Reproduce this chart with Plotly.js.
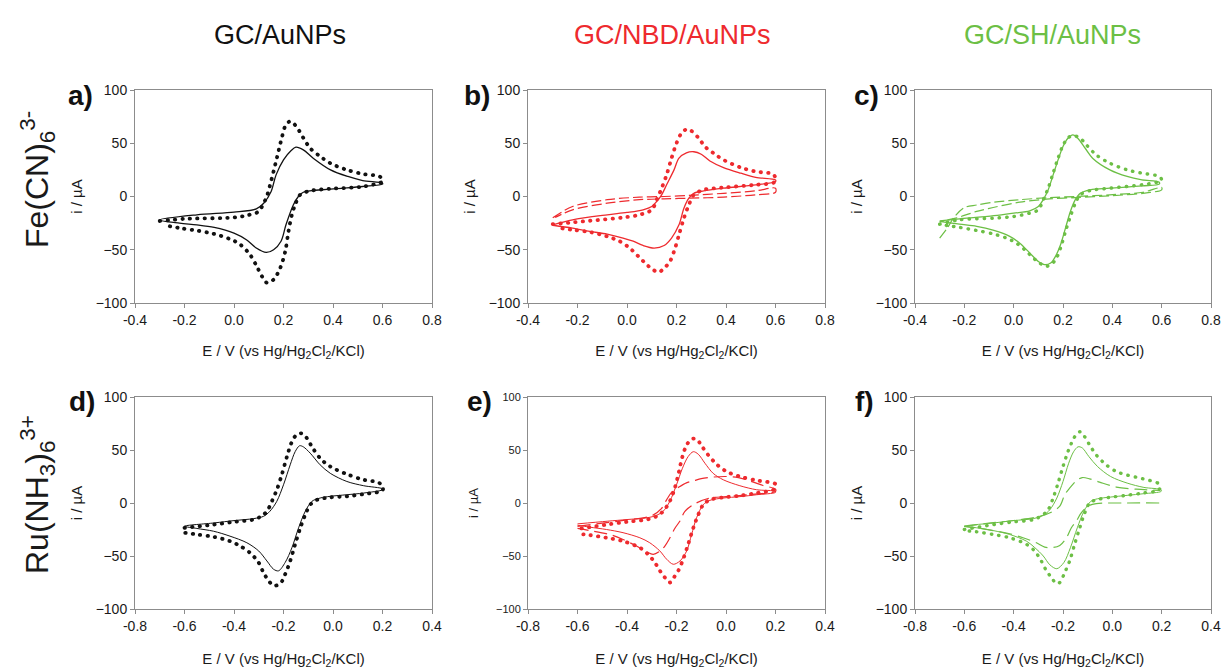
<!DOCTYPE html>
<html>
<head>
<meta charset="utf-8">
<script src="https://cdn.plot.ly/plotly-3.0.1.min.js"></script>
<style>html,body{margin:0;padding:0;background:#fff;}#chart{width:1221px;height:669px;}</style>
</head>
<body>
<div id="chart"></div>
<script>
// ---------- column / row labels ----------
const columnTitles = ['GC/AuNPs', 'GC/NBD/AuNPs', 'GC/SH/AuNPs'];
const rowTitles = ['Fe(CN)<sub>6</sub><sup>3-</sup>', 'Ru(NH<sub>3</sub>)<sub>6</sub><sup>3+</sup>'];
const panelLetters = ['a)', 'b)', 'c)', 'd)', 'e)', 'f)'];
const xTicksFe = [-0.4, -0.2, 0.0, 0.2, 0.4, 0.6, 0.8];
const xTicksRu = [-0.8, -0.6, -0.4, -0.2, 0.0, 0.2, 0.4];
const yTicks = [-100, -50, 0, 50, 100];

// ---------- panel a : Fe(CN)6 3-, GC/AuNPs ----------
const a_solid_E = [-0.30,-0.15,0.00,0.09,0.12,0.15,0.17,0.20,0.23,0.25,0.28,0.32,0.39,0.46,0.52,0.60,
  0.60,0.52,0.39,0.28,0.26,0.24,0.21,0.19,0.16,0.13,0.09,0.05,0.00,-0.08,-0.15,-0.22,-0.30];
const a_solid_I = [-22,-17.2,-14.7,-11.6,-6.3,4.7,20.3,34.4,43,46.3,43.8,36,25,18.8,15,12.5,
  11.6,9.4,6.9,4,0,-7.8,-26.6,-42,-50,-52.5,-48.4,-40.6,-34.4,-29,-26.6,-25,-22];
const a_dot_E = [-0.30,-0.20,0.00,0.05,0.10,0.12,0.13,0.146,0.173,0.193,0.207,0.224,0.24,0.261,0.281,0.308,0.349,0.389,0.456,0.524,0.589,0.60,
  0.60,0.524,0.389,0.308,0.267,0.247,0.234,0.220,0.207,0.187,0.16,0.133,0.113,0.092,0.065,0.025,-0.016,-0.083,-0.15,-0.218,-0.289];
const a_dot_I = [-23,-21,-19.7,-17.8,-14,-6,-1.6,11,36,55,66,70.3,68.8,62.5,54.7,45.3,37.5,31.3,25,21,18.8,15,
  14,9.4,7.2,5.3,1.6,-7.8,-17,-33,-51.6,-67,-78,-81,-75,-65.6,-54.7,-45,-40,-35,-32,-29.7,-26.6];

// ---------- panel b : Fe(CN)6 3-, GC/NBD/AuNPs ----------
const b_solid_E = [-0.30,-0.22,-0.08,0.00,0.065,0.10,0.12,0.14,0.16,0.19,0.21,0.24,0.27,0.30,0.335,0.39,0.46,0.52,0.60,
  0.60,0.52,0.39,0.31,0.27,0.25,0.23,0.21,0.18,0.15,0.11,0.065,0.025,-0.016,-0.08,-0.15,-0.22,-0.30];
const b_solid_I = [-26.6,-21.9,-17.2,-15,-12.5,-9.4,-4.7,1.6,11,25,36,41,42,39.7,33.4,27.2,21.9,18,15.6,
  14,11,7.8,5.3,3,-1.6,-11,-26.6,-39,-46,-48.4,-46,-42,-39,-35.3,-32.8,-29.7,-27];
const b_dot_E = [-0.30,-0.15,-0.016,0.05,0.10,0.12,0.14,0.16,0.18,0.20,0.22,0.24,0.26,0.29,0.315,0.35,0.39,0.46,0.52,0.59,0.60,
  0.595,0.52,0.39,0.31,0.27,0.25,0.23,0.21,0.19,0.17,0.15,0.13,0.105,0.08,0.045,0.011,-0.03,-0.08,-0.15,-0.22,-0.29];
const b_dot_I = [-26,-22.8,-19.7,-17.2,-12.5,-3,7.8,20.3,36,50,59.4,63,61.6,54.7,46.9,40.6,34.4,27.2,23.4,21,17,
  13.4,11,8.4,6.3,1.6,-7.8,-20.3,-36,-51.6,-62.5,-67,-71,-68.8,-64,-56,-48.4,-42,-37.5,-33.4,-31.3,-29];
const b_dash_E = [-0.30,-0.22,-0.08,0.05,0.15,0.25,0.39,0.52,0.60,
  0.60,0.52,0.39,0.25,0.15,0.05,-0.08,-0.22,-0.29];
const b_dash_I = [-20,-9.4,-3,-0.6,0,1,3,5.3,7.8,
  4,1.6,-0.6,-1.6,-2.2,-3,-6.3,-12.5,-19.7];

// ---------- panel c : Fe(CN)6 3-, GC/SH/AuNPs ----------
const c_solid_E = [-0.30,-0.22,-0.08,0.00,0.065,0.10,0.12,0.14,0.16,0.18,0.20,0.22,0.24,0.26,0.29,0.32,0.39,0.46,0.52,0.59,
  0.59,0.52,0.39,0.31,0.27,0.25,0.23,0.21,0.19,0.17,0.15,0.125,0.10,0.065,0.025,-0.016,-0.08,-0.15,-0.22,-0.30];
const c_solid_I = [-22.8,-21,-18,-15.6,-13.4,-9.4,-3,6.3,20.3,34.4,47,54.7,57.8,54.7,45.3,36,25,18.8,15.6,13.4,
  11.6,10,7.8,6.3,3,-3,-14,-29.7,-45.3,-56,-62.5,-64,-61,-53,-43.8,-37.5,-31.9,-28,-26,-23.4];
const c_dot_E = [-0.30,-0.22,-0.08,0.00,0.065,0.10,0.12,0.14,0.16,0.18,0.20,0.22,0.24,0.27,0.295,0.335,0.39,0.46,0.52,0.59,0.60,
  0.59,0.52,0.39,0.31,0.27,0.25,0.23,0.21,0.19,0.17,0.15,0.13,0.105,0.08,0.045,0.011,-0.03,-0.08,-0.15,-0.22,-0.29];
const c_dot_I = [-26,-21.9,-20.3,-18.8,-15.6,-12.5,-3,7.8,22,36,48,55,57.2,54.7,48.4,39,31.3,25,21.9,18.8,15.6,
  14,11,7.8,5.6,1.6,-6.3,-18.8,-32.8,-48.4,-59.4,-64,-65.6,-62.5,-57.8,-50,-43.8,-39,-35.3,-31.9,-29,-26.6];
const c_dash_E = [-0.30,-0.27,-0.24,-0.20,-0.15,-0.08,0.025,0.146,0.254,0.389,0.524,0.60,
  0.60,0.524,0.389,0.254,0.146,0.025,-0.083,-0.15,-0.23,-0.27,-0.30];
const c_dash_I = [-39,-30,-19,-10.5,-8,-5.3,-3,-1,0,1.6,4,8.5,
  6.3,3,0.6,-1,-2.2,-5.3,-10.3,-14,-20,-22,-24];

// ---------- panel d : Ru(NH3)6 3+, GC/AuNPs ----------
const d_solid_E = [-0.60,-0.48,-0.40,-0.32,-0.28,-0.255,-0.227,-0.20,-0.173,-0.153,-0.135,-0.12,-0.092,-0.052,-0.011,0.056,0.124,0.20,
  0.20,0.124,0.056,-0.011,-0.052,-0.085,-0.112,-0.139,-0.166,-0.193,-0.22,-0.24,-0.267,-0.30,-0.348,-0.416,-0.483,-0.55,-0.60];
const d_solid_I = [-21.9,-18.8,-16.6,-14.7,-12.5,-7.8,1.6,17.2,36,48.4,54,53,47,36,28,20.3,16.3,13.4,
  12.5,9.4,7.8,6.3,4.7,1.6,-7.8,-23.4,-42.2,-56,-64,-62.5,-54.7,-45.3,-37.5,-31.3,-26.6,-24,-21.9];
const d_dot_E = [-0.60,-0.48,-0.40,-0.32,-0.29,-0.267,-0.247,-0.227,-0.207,-0.186,-0.166,-0.146,-0.126,-0.105,-0.085,-0.052,-0.011,0.056,0.124,0.178,0.20,
  0.20,0.124,0.056,-0.011,-0.065,-0.092,-0.112,-0.132,-0.153,-0.173,-0.193,-0.213,-0.24,-0.26,-0.281,-0.301,-0.335,-0.375,-0.416,-0.483,-0.55,-0.60];
const d_dot_I = [-23.4,-20.3,-17.8,-15.6,-12.5,-7.8,1.6,12.5,26.6,43.8,57.8,64.7,65.6,61,53,42.2,34.4,27.2,21.9,19.7,16.6,
  11.9,8.4,6.3,5.3,3,-1.6,-11,-23.4,-39,-54.7,-67,-76,-78,-73.4,-65.6,-56,-47,-40.6,-36,-31.9,-29.7,-28];

// ---------- panel e : Ru(NH3)6 3+, GC/NBD/AuNPs ----------
const e_solid_E = [-0.60,-0.48,-0.40,-0.32,-0.28,-0.254,-0.227,-0.20,-0.176,-0.153,-0.132,-0.112,-0.085,-0.052,-0.011,0.056,0.124,0.20,
  0.20,0.124,0.056,-0.011,-0.065,-0.092,-0.119,-0.139,-0.159,-0.186,-0.213,-0.24,-0.267,-0.308,-0.348,-0.416,-0.483,-0.55,-0.60];
const e_solid_I = [-19.7,-17.2,-15.6,-14,-11.6,-7.8,1.6,17.2,32.8,43.8,48.4,46,37.5,28,21.9,16.3,12.5,11,
  10,7.8,6,4.7,2.5,-1.6,-14,-29.7,-45.3,-54.7,-57.8,-53,-45.3,-37.5,-32.8,-28,-25,-22.8,-21];
const e_dot_E = [-0.584,-0.48,-0.40,-0.32,-0.28,-0.254,-0.227,-0.207,-0.193,-0.176,-0.159,-0.139,-0.119,-0.099,-0.072,-0.038,0.002,0.056,0.124,0.178,0.20,
  0.194,0.124,0.056,-0.011,-0.065,-0.092,-0.112,-0.132,-0.153,-0.173,-0.193,-0.213,-0.227,-0.247,-0.267,-0.288,-0.315,-0.348,-0.416,-0.483,-0.55,-0.60];
const e_dot_I = [-24,-20.3,-17.8,-15.6,-12.5,-7.8,1.6,14,26.6,43.8,54.7,60.3,60.3,54,45.3,36.6,29.7,25,21.3,19.4,17.8,
  13,9.4,6.9,5.3,3,-1.6,-11,-23.4,-39,-53,-64,-71,-75,-70.3,-64,-56,-48.4,-42.2,-36,-32.8,-30.3,-29];
const e_dash_E = [-0.60,-0.50,-0.40,-0.30,-0.26,-0.24,-0.22,-0.19,-0.16,-0.13,-0.10,-0.05,0.00,0.05,0.10,0.15,0.20,
  0.20,0.10,0.00,-0.065,-0.12,-0.166,-0.186,-0.207,-0.227,-0.247,-0.267,-0.294,-0.321,-0.362,-0.416,-0.47,-0.55,-0.60];
const e_dash_I = [-22,-19,-16,-12,-5,3,10,15,19,21,23,24.5,25,24,20.5,16.5,13,
  11,8,6,4.7,0,-7.8,-17,-24,-33,-40.6,-45.3,-48.4,-46,-40.6,-34.4,-29.7,-26,-24];

// ---------- panel f : Ru(NH3)6 3+, GC/SH/AuNPs ----------
const f_solid_E = [-0.60,-0.48,-0.40,-0.32,-0.28,-0.253,-0.225,-0.20,-0.177,-0.157,-0.139,-0.122,-0.095,-0.06,-0.007,0.06,0.128,0.198,
  0.198,0.128,0.06,-0.007,-0.06,-0.087,-0.115,-0.142,-0.17,-0.196,-0.225,-0.253,-0.28,-0.314,-0.348,-0.416,-0.483,-0.55,-0.60];
const f_solid_I = [-21.9,-18.8,-16.6,-14.7,-11.6,-6.3,4.7,20.3,37.5,48.4,53,52,43.8,34.4,25,18.8,14.7,12.5,
  11,8.8,7.2,5.6,4,1.6,-7.8,-23.4,-42.2,-56,-62,-58.4,-50,-42.2,-36,-29.7,-26,-23.4,-21.9];
const f_dot_E = [-0.60,-0.48,-0.40,-0.32,-0.28,-0.26,-0.24,-0.22,-0.20,-0.18,-0.162,-0.146,-0.13,-0.112,-0.092,-0.065,-0.025,0.016,0.056,0.124,0.19,
  0.19,0.124,0.056,-0.011,-0.065,-0.092,-0.112,-0.132,-0.153,-0.173,-0.193,-0.213,-0.227,-0.247,-0.267,-0.288,-0.315,-0.348,-0.416,-0.483,-0.55,-0.60];
const f_dot_I = [-25,-20.3,-17.8,-15.6,-11,-6.3,4.7,18.8,34.4,48.4,58.4,64.7,67.2,62.5,54.7,45.3,36,29.7,26.6,22.8,17.8,
  12.5,9.4,7.2,5.3,3,0,-9.4,-23.4,-39,-54.7,-65.6,-75,-76,-70.3,-64,-54.7,-45.3,-39,-32.8,-29.7,-27.2,-26];
const f_dashUp_E = [-0.60,-0.50,-0.40,-0.30,-0.25,-0.213,-0.193,-0.173,-0.146,-0.122,-0.092,-0.052,0.016,0.097,0.19];
const f_dashUp_I = [-22,-19,-16.5,-13,-9,-3,7.8,14,21,24,22.8,19.7,15,13,12];
const f_dashLo_E = [0.19,0.056,-0.065,-0.099,-0.126,-0.146,-0.166,-0.186,-0.213,-0.24,-0.274,-0.308,-0.362,-0.416,-0.483,-0.55,-0.60];
const f_dashLo_I = [0,0,-0.6,-3,-9.4,-17,-23.4,-32.8,-40,-42,-41.6,-37.5,-32.8,-29,-26,-23.4,-22];

// ---------- styling ----------
const W = 1221, H = 669;
const BLACK = '#111111', RED = '#ee2a2e', GREEN = '#6cbf45';
const colX = [[135, 432], [528, 825], [915, 1211]];
const rowY = [[90, 303], [397, 609]];
const fontFam = 'Arial, "Liberation Sans", Helvetica, sans-serif';

function tr(E, I, axisIdx, color, kind) {
  const sfx = axisIdx === 1 ? '' : String(axisIdx);
  const line = {color: color, shape: 'spline', smoothing: 0.9};
  if (kind === 'solid') { line.width = axisIdx <= 3 ? 1.3 : 1.0; }
  else if (kind === 'dot') { line.width = (axisIdx === 3 || axisIdx === 6) ? 3.4 : 3.8; line.dash = '0.4px,7.1px'; }
  else { line.width = 1.2; line.dash = axisIdx <= 3 ? '10px,4px' : '13px,6px'; }
  return {x: E, y: I, type: 'scatter', mode: 'lines', line: line, name: kind,
          xaxis: 'x' + sfx, yaxis: 'y' + sfx, hoverinfo: 'skip', showlegend: false};
}

const data = [
  tr(a_solid_E, a_solid_I, 1, BLACK, 'solid'), tr(a_dot_E, a_dot_I, 1, BLACK, 'dot'),
  tr(b_dash_E, b_dash_I, 2, RED, 'dash'), tr(b_solid_E, b_solid_I, 2, RED, 'solid'), tr(b_dot_E, b_dot_I, 2, RED, 'dot'),
  tr(c_dash_E, c_dash_I, 3, GREEN, 'dash'), tr(c_solid_E, c_solid_I, 3, GREEN, 'solid'), tr(c_dot_E, c_dot_I, 3, GREEN, 'dot'),
  tr(d_solid_E, d_solid_I, 4, BLACK, 'solid'), tr(d_dot_E, d_dot_I, 4, BLACK, 'dot'),
  tr(e_dash_E, e_dash_I, 5, RED, 'dash'), tr(e_solid_E, e_solid_I, 5, RED, 'solid'), tr(e_dot_E, e_dot_I, 5, RED, 'dot'),
  tr(f_dashUp_E, f_dashUp_I, 6, GREEN, 'dash'), tr(f_dashLo_E, f_dashLo_I, 6, GREEN, 'dash'),
  tr(f_solid_E, f_solid_I, 6, GREEN, 'solid'), tr(f_dot_E, f_dot_I, 6, GREEN, 'dot')
];

const xTitle = 'E / V (vs Hg/Hg<sub>2</sub>Cl<sub>2</sub>/KCl)';
const layout = {
  width: W, height: H, margin: {l: 0, r: 0, t: 0, b: 0},
  paper_bgcolor: '#ffffff', plot_bgcolor: '#ffffff',
  font: {family: fontFam, color: '#1a1a1a', size: 14},
  annotations: []
};

for (let k = 0; k < 6; k++) {
  const row = Math.floor(k / 3), col = k % 3;
  const sfx = k === 0 ? '' : String(k + 1);
  const small = (k === 4);
  const xt = row === 0 ? xTicksFe : xTicksRu;
  layout['xaxis' + sfx] = {
    domain: [colX[col][0] / W, colX[col][1] / W],
    anchor: 'y' + sfx,
    range: [xt[0], xt[xt.length - 1]],
    tickvals: xt, ticktext: xt.map(v => v.toFixed(1)),
    showline: true, mirror: true, linecolor: '#8c8c8c', linewidth: 1,
    ticks: 'outside', ticklen: 4, tickcolor: '#8c8c8c',
    showgrid: false, zeroline: false,
    tickfont: {size: 14, family: fontFam, color: '#1a1a1a'},
    title: {text: xTitle, font: {size: 15, family: fontFam, color: '#1a1a1a'}, standoff: row === 0 ? 18 : 20}
  };
  layout['yaxis' + sfx] = {
    domain: [1 - rowY[row][1] / H, 1 - rowY[row][0] / H],
    anchor: 'x' + sfx,
    range: [-100, 100], tickvals: yTicks,
    showline: true, mirror: true, linecolor: '#8c8c8c', linewidth: 1,
    ticks: 'outside', ticklen: 4, tickcolor: '#8c8c8c',
    showgrid: false, zeroline: false,
    tickfont: {size: small ? 11 : 14, family: fontFam, color: '#1a1a1a'},
    title: {text: 'i / µA', font: {size: small ? 13 : 15, family: fontFam, color: '#1a1a1a'}, standoff: small ? 14 : 9}
  };
}

// column titles
const colTitleColors = [BLACK, RED, GREEN];
const colTitleX = [280, 672, 1052];
columnTitles.forEach((t, i) => layout.annotations.push({
  text: t, xref: 'paper', yref: 'paper', x: colTitleX[i] / W, y: 1 - 35 / H,
  xanchor: 'center', yanchor: 'middle', showarrow: false,
  font: {size: 27, family: fontFam, color: colTitleColors[i]}
}));
// row titles
const rowTitleY = [180, 495];
rowTitles.forEach((t, i) => layout.annotations.push({
  text: t, xref: 'paper', yref: 'paper', x: 37 / W, y: 1 - rowTitleY[i] / H,
  xanchor: 'center', yanchor: 'middle', textangle: -90, showarrow: false,
  font: {size: 32, family: fontFam, color: '#1a1a1a'}
}));
// panel letters
const letterPos = [[81, 96], [477, 96], [866, 96], [82, 401], [480, 401], [864, 401]];
panelLetters.forEach((t, i) => layout.annotations.push({
  text: '<b>' + t + '</b>', xref: 'paper', yref: 'paper',
  x: letterPos[i][0] / W, y: 1 - letterPos[i][1] / H,
  xanchor: 'center', yanchor: 'middle', showarrow: false,
  font: {size: 28, family: fontFam, color: '#111111'}
}));

Plotly.newPlot('chart', data, layout, {staticPlot: true, displayModeBar: false}).then(gd => {
  // round dot ends for the dotted series
  gd.querySelectorAll('.scatterlayer .trace').forEach((g, idx) => {
    if (data[idx] && data[idx].name === 'dot') {
      g.querySelectorAll('path.js-line').forEach(p => { p.style.strokeLinecap = 'round'; });
    }
  });
});
</script>
</body>
</html>
